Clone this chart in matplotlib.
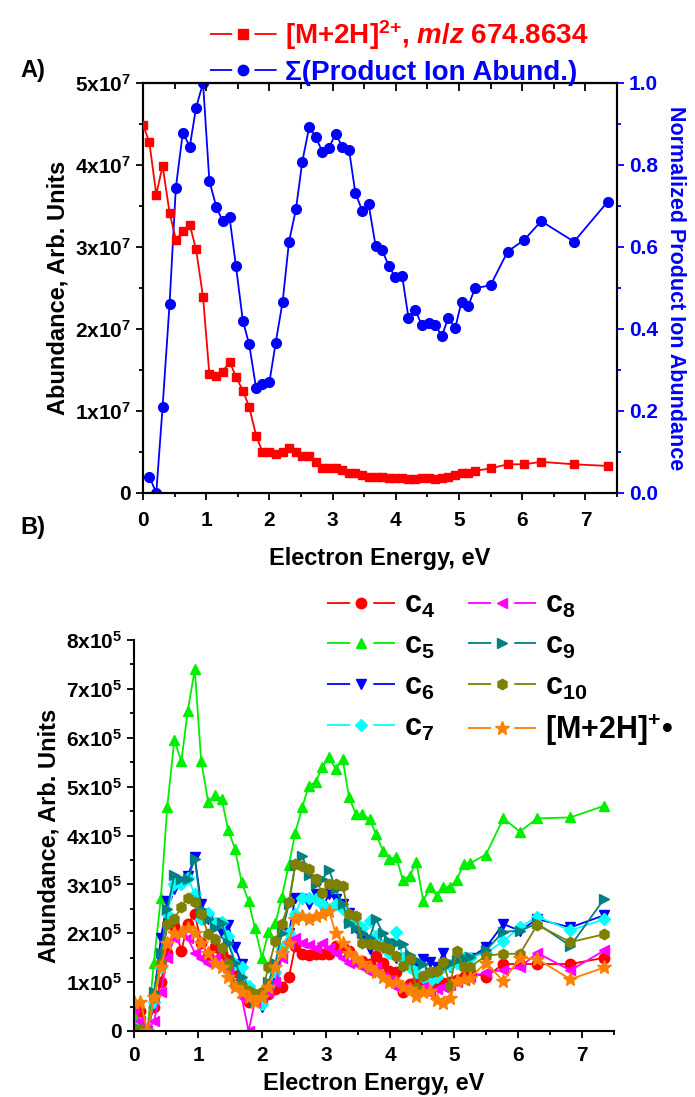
import numpy as np
import matplotlib
matplotlib.use("Agg")
import matplotlib.pyplot as plt
from matplotlib.lines import Line2D
from matplotlib.legend_handler import HandlerTuple
from matplotlib.ticker import MultipleLocator, FuncFormatter, NullFormatter

plt.rcParams["font.family"] = ["Liberation Sans", "DejaVu Sans"]
plt.rcParams["font.weight"] = "bold"
plt.rcParams["axes.labelweight"] = "bold"
plt.rcParams["mathtext.fontset"] = "custom"
plt.rcParams["mathtext.rm"] = "Liberation Sans:bold"
plt.rcParams["mathtext.bf"] = "Liberation Sans:bold"
plt.rcParams["mathtext.it"] = "Liberation Sans:bold:italic"
plt.rcParams["lines.scale_dashes"] = False

# Electron energy grid (eV)
energy = [0.0, 0.1, 0.21, 0.31, 0.42, 0.52, 0.63, 0.74, 0.84, 0.95,
          1.05, 1.16, 1.26, 1.37, 1.47, 1.58, 1.68, 1.79, 1.89, 2.0,
          2.1, 2.21, 2.31, 2.42, 2.52, 2.63, 2.73, 2.84, 2.94, 3.05,
          3.15, 3.26, 3.36, 3.47, 3.57, 3.68, 3.78, 3.89, 3.99, 4.1,
          4.2, 4.31, 4.41, 4.52, 4.62, 4.73, 4.83, 4.94, 5.04, 5.15,
          5.25, 5.5, 5.77, 6.03, 6.3, 6.82, 7.35]

# Panel A: precursor abundance (x1e7) and normalized product ion sum
precursor = [4.49, 4.28, 3.64, 3.99, 3.42, 3.09, 3.19, 3.27, 2.97, 2.39,
             1.45, 1.43, 1.48, 1.60, 1.42, 1.25, 1.05, 0.70, 0.50, 0.50,
             0.48, 0.50, 0.55, 0.50, 0.45, 0.45, 0.38, 0.30, 0.30, 0.30,
             0.28, 0.25, 0.25, 0.22, 0.20, 0.20, 0.20, 0.18, 0.18, 0.18,
             0.17, 0.17, 0.18, 0.18, 0.17, 0.18, 0.20, 0.22, 0.24, 0.25,
             0.27, 0.30, 0.35, 0.35, 0.38, 0.35, 0.33]
product_sum = [np.nan, 0.04, 0.00, 0.21, 0.46, 0.745, 0.879, 0.845, 0.94, 1.00,
               0.761, 0.698, 0.663, 0.672, 0.554, 0.42, 0.363, 0.255, 0.265, 0.27,
               0.367, 0.467, 0.613, 0.692, 0.808, 0.893, 0.869, 0.832, 0.842, 0.876,
               0.845, 0.837, 0.732, 0.688, 0.704, 0.603, 0.593, 0.554, 0.526, 0.53,
               0.428, 0.446, 0.41, 0.414, 0.41, 0.383, 0.428, 0.402, 0.467, 0.457,
               0.499, 0.507, 0.589, 0.617, 0.663, 0.613, 0.71]

# Panel B: product ion abundances (x1e5)
c4 = [0.20, 0.40, 0.00, 0.50, 1.00, 1.60, 2.15, 1.64, 2.19, 2.40,
      1.81, 1.54, 1.71, 1.60, 1.45, 1.20, 0.90, 0.60, 0.65, 0.70,
      0.75, 0.85, 0.90, 1.10, 1.74, 1.57, 1.56, 1.57, 1.57, 1.57,
      1.74, 1.71, 1.64, 1.43, 1.43, 1.37, 1.54, 1.40, 1.23, 1.20,
      0.79, 0.96, 1.00, 0.90, 0.95, 0.96, 0.99, 1.00, 1.05, 1.10,
      1.20, 1.11, 1.37, 1.37, 1.37, 1.37, 1.50]
c5 = [0.30, 0.00, 0.00, 1.39, 2.73, 4.59, 5.95, 5.52, 6.55, 7.40,
      5.52, 4.68, 4.82, 4.75, 4.12, 3.72, 3.05, 2.66, 2.10, 1.50,
      2.02, 2.20, 2.75, 3.40, 4.06, 4.58, 5.02, 5.09, 5.40, 5.60,
      5.36, 5.57, 4.78, 4.43, 4.43, 4.34, 4.03, 3.69, 3.52, 3.55,
      3.09, 3.18, 3.46, 2.66, 2.94, 2.77, 2.94, 2.95, 3.09, 3.42,
      3.43, 3.61, 4.35, 4.08, 4.35, 4.37, 4.61]
c6 = [0.10, 0.00, 0.00, 0.70, 1.90, 2.66, 2.90, 3.00, 3.18, 3.55,
      2.60, 2.30, 2.20, 2.00, 2.17, 1.71, 1.37, 0.80, 0.70, 0.49,
      0.90, 1.10, 1.60, 2.00, 2.73, 2.70, 2.60, 2.80, 2.53, 2.80,
      2.70, 2.60, 2.42, 2.10, 1.90, 1.67, 1.80, 1.70, 1.60, 1.50,
      1.50, 1.40, 1.30, 1.47, 1.42, 1.30, 1.60, 1.30, 1.40, 1.45,
      1.50, 1.71, 2.19, 2.05, 2.29, 2.12, 2.37]
c7 = [0.10, 0.00, 0.00, 0.60, 1.30, 2.40, 3.00, 3.00, 3.14, 2.80,
      2.30, 2.41, 2.20, 2.23, 1.95, 1.37, 1.30, 0.92, 0.68, 0.55,
      0.90, 1.20, 1.70, 2.00, 2.40, 2.73, 2.73, 2.70, 2.60, 2.50,
      2.60, 2.50, 2.25, 2.20, 2.10, 2.25, 1.95, 1.75, 1.60, 2.02,
      1.50, 1.30, 1.20, 1.10, 1.02, 1.10, 1.30, 1.35, 1.40, 1.50,
      1.50, 1.60, 1.84, 2.12, 2.34, 2.06, 2.29]
c8 = [0.50, 0.20, 0.00, 0.20, 0.80, 1.50, 1.90, 2.00, 1.90, 1.60,
      1.50, 1.40, 1.50, 1.40, 1.20, 1.00, 0.70, 0.00, 0.60, 0.70,
      0.80, 1.00, 1.50, 1.80, 1.90, 1.80, 1.75, 1.70, 1.80, 1.70,
      1.60, 1.50, 1.40, 1.40, 1.30, 1.20, 1.30, 1.10, 1.05, 0.90,
      0.87, 0.85, 0.80, 0.90, 0.77, 0.85, 0.90, 0.95, 1.00, 1.05,
      1.10, 1.20, 1.25, 1.30, 1.60, 1.24, 1.65]
c9 = [0.10, 0.00, 0.00, 0.80, 1.60, 2.50, 3.20, 3.10, 3.10, 3.52,
      2.50, 2.30, 2.10, 2.20, 1.80, 1.40, 1.10, 0.80, 0.60, 0.70,
      1.00, 1.40, 2.00, 2.60, 3.40, 3.59, 3.20, 3.00, 3.10, 3.30,
      2.90, 2.60, 2.20, 2.10, 2.00, 1.90, 2.29, 2.00, 1.84, 1.80,
      1.79, 1.55, 1.45, 1.37, 1.20, 1.20, 1.30, 1.40, 1.45, 1.50,
      1.52, 1.65, 2.03, 2.05, 2.20, 1.74, 2.71]
c10 = [0.05, 0.05, 0.00, 0.70, 1.40, 2.19, 2.30, 2.53, 2.73, 2.63,
       2.40, 1.98, 1.88, 1.70, 1.37, 0.95, 0.92, 0.82, 0.75, 0.80,
       1.30, 1.84, 2.19, 2.63, 3.42, 3.38, 3.31, 3.11, 2.83, 3.00,
       3.00, 2.97, 2.39, 2.35, 1.80, 1.78, 1.75, 1.71, 1.67, 1.54,
       1.33, 1.47, 0.89, 1.13, 1.20, 1.23, 1.42, 0.92, 1.64, 1.30,
       1.31, 1.54, 1.58, 1.58, 2.17, 1.82, 1.98]
radical = [0.60, 0.60, 0.00, 0.70, 1.30, 1.80, 2.00, 2.00, 2.10, 2.00,
           1.80, 1.60, 1.40, 1.30, 1.10, 0.90, 0.80, 0.70, 0.60, 0.70,
           0.90, 1.30, 1.60, 1.80, 2.30, 2.35, 2.30, 2.35, 2.40, 2.45,
           2.00, 1.80, 1.60, 1.50, 1.40, 1.30, 1.20, 1.10, 1.00, 1.00,
           0.90, 0.85, 0.72, 0.80, 0.82, 0.63, 0.58, 0.68, 1.02, 1.06,
           1.09, 1.40, 1.02, 1.50, 1.47, 1.06, 1.30]

b_series = [
    ("c$_4$", c4, "#ff0000", "o"),
    ("c$_5$", c5, "#00ee00", "^"),
    ("c$_6$", c6, "#0000ff", "v"),
    ("c$_7$", c7, "#00ffff", "D"),
    ("c$_8$", c8, "#ff00ff", "<"),
    ("c$_9$", c9, "#008080", ">"),
    ("c$_{10}$", c10, "#808000", "h"),
    ("[M+2H]$^{+}$\u2022", radical, "#ff8000", "*"),
]


def sci_fmt(exp):
    def f(v, pos):
        if abs(v) < 1e-12:
            return "0"
        return "%dx10$^{%d}$" % (round(v / 10 ** exp), exp)
    return FuncFormatter(f)


def gap_handle(color, marker, ms, total_pt):
    seg = total_pt / 3.0
    line = Line2D([], [], color=color, lw=1.3, linestyle=(0, (seg, seg)))
    mk = Line2D([], [], color=color, marker=marker, ms=ms, linestyle="none")
    return (line, mk)


def marker_size(mk):
    return 10 if mk == "*" else (6.5 if mk == "D" else 7.5)


W, H = 695, 1097
fig = plt.figure(figsize=(W / 100, H / 100), dpi=100)
TICK_FS = 15
LABEL_FS = 17

# ---------------- Panel A ----------------
axA = fig.add_axes([143 / W, 1 - 493 / H, (617 - 143) / W, (493 - 83) / H])
axA2 = axA.twinx()
E = np.array(energy)
axA.plot(E, np.array(precursor) * 1e7, color="#ff0000", marker="s", ms=6,
         lw=1.3, zorder=3)
axA2.plot(E, product_sum, color="#0000ff", marker="o", ms=7, lw=1.3)
axA.set_zorder(axA2.get_zorder() + 1)
axA.patch.set_visible(False)

axA.set_xlim(0, 7.5)
axA.set_ylim(0, 5e7)
axA2.set_ylim(0, 1.0)
axA.xaxis.set_major_locator(MultipleLocator(1))
axA.xaxis.set_minor_locator(MultipleLocator(0.5))
axA.yaxis.set_major_locator(MultipleLocator(1e7))
axA.yaxis.set_minor_locator(MultipleLocator(0.5e7))
axA.yaxis.set_major_formatter(sci_fmt(7))
axA2.yaxis.set_major_locator(MultipleLocator(0.2))
axA2.yaxis.set_minor_locator(MultipleLocator(0.1))
axA2.yaxis.set_major_formatter(FuncFormatter(lambda v, p: "%.1f" % v))

for sp in list(axA.spines.values()) + list(axA2.spines.values()):
    sp.set_linewidth(1.5)
axA2.spines["right"].set_color("#0000ff")
axA.tick_params(axis="both", which="both", width=1.3, labelsize=TICK_FS)
axA.tick_params(axis="x", which="major", length=5, pad=8)
axA.tick_params(axis="x", which="minor", length=3)
axA.tick_params(axis="y", which="major", length=5)
axA.tick_params(axis="y", which="minor", length=3)
axA2.tick_params(axis="y", which="both", colors="#0000ff", width=1.3,
                 labelsize=TICK_FS)
axA2.tick_params(axis="y", which="major", length=5)
axA2.tick_params(axis="y", which="minor", length=3)

# inward ticks along the top edge
topA = axA.secondary_xaxis("top")
topA.xaxis.set_major_locator(MultipleLocator(1))
topA.xaxis.set_minor_locator(MultipleLocator(0.5))
topA.xaxis.set_major_formatter(NullFormatter())
topA.tick_params(axis="x", which="major", direction="in", length=6, width=1.3)
topA.tick_params(axis="x", which="minor", direction="in", length=4, width=1.3)
topA.spines["top"].set_linewidth(1.5)

axA.set_xlabel("Electron Energy, eV", fontsize=LABEL_FS, labelpad=12)
axA.set_ylabel("Abundance, Arb. Units", fontsize=LABEL_FS, labelpad=4)
axA2.set_ylabel("Normalized Product Ion Abundance", fontsize=15.5,
                color="#0000ff", rotation=270, labelpad=20)

hA = [gap_handle("#ff0000", "s", 6.5, 48), gap_handle("#0000ff", "o", 7.5, 48)]
labA = ["[M+2H]$^{2{+}}$, $\\mathit{m}$/$\\mathit{z}$ 674.8634",
        "\u03a3(Product Ion Abund.)"]
legA = fig.legend(hA, labA, handler_map={tuple: HandlerTuple(ndivide=1)},
                  loc="upper left", bbox_to_anchor=(196 / W, 1 - 4 / H),
                  frameon=False, fontsize=20, handlelength=2.4,
                  handletextpad=0.3, labelspacing=0.3, borderpad=0)
for t, c in zip(legA.get_texts(), ["#ff0000", "#0000ff"]):
    t.set_color(c)

fig.text(20 / W, 1 - 70 / H, "A)", fontsize=17, va="center", ha="left")

# ---------------- Panel B ----------------
axB = fig.add_axes([134 / W, 1 - 1031 / H, (614 - 134) / W, (1031 - 640) / H])
for name, vals, col, mk in b_series:
    axB.plot(E, np.array(vals) * 1e5, color=col, marker=mk,
             ms=marker_size(mk), lw=1.3)

axB.set_xlim(0, 7.5)
axB.set_ylim(0, 8e5)
axB.spines["top"].set_visible(False)
axB.spines["right"].set_visible(False)
for sp in axB.spines.values():
    sp.set_linewidth(1.5)
axB.xaxis.set_major_locator(MultipleLocator(1))
axB.xaxis.set_minor_locator(MultipleLocator(0.5))
axB.yaxis.set_major_locator(MultipleLocator(1e5))
axB.yaxis.set_minor_locator(MultipleLocator(0.5e5))
axB.yaxis.set_major_formatter(sci_fmt(5))
axB.tick_params(axis="both", which="both", width=1.3, labelsize=TICK_FS)
axB.tick_params(axis="both", which="major", length=5)
axB.tick_params(axis="both", which="minor", length=3)
axB.tick_params(axis="x", which="major", pad=6)
axB.set_xlabel("Electron Energy, eV", fontsize=LABEL_FS, labelpad=5)
axB.set_ylabel("Abundance, Arb. Units", fontsize=LABEL_FS, labelpad=4)

hB = [gap_handle(col, mk, marker_size(mk), 50) for _, _, col, mk in b_series]
legB = axB.legend(hB, [s[0] for s in b_series],
                  handler_map={tuple: HandlerTuple(ndivide=1)},
                  loc="upper left", bbox_to_anchor=(312 / W, 1 - 575 / H),
                  bbox_transform=fig.transFigure, ncol=2, frameon=False,
                  fontsize=22, handlelength=2.2, handletextpad=0.3,
                  labelspacing=0.35, columnspacing=1.1, borderpad=0)

fig.text(20 / W, 1 - 528 / H, "B)", fontsize=17, va="center", ha="left")

fig.savefig("out.png", dpi=100)
